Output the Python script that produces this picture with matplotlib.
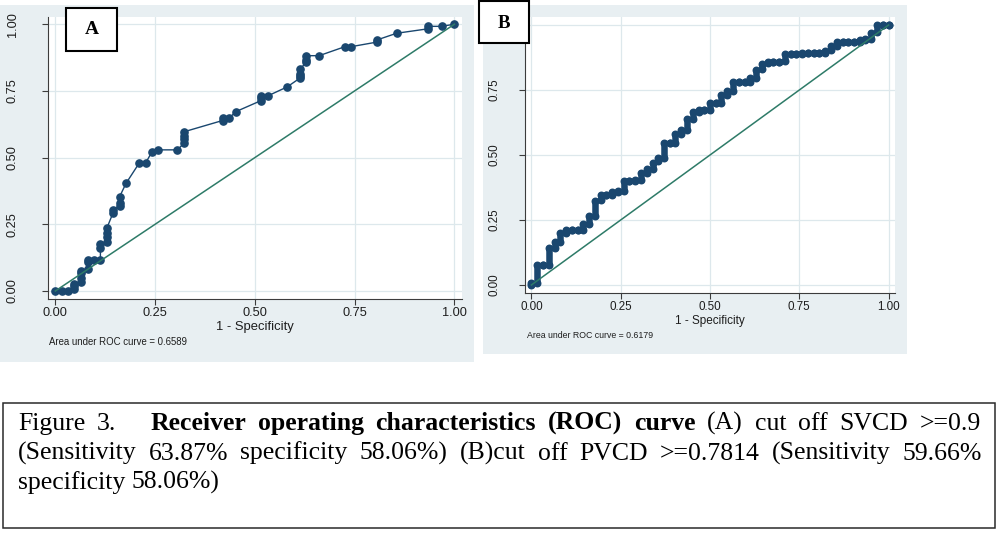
import matplotlib
matplotlib.use("Agg")
import matplotlib.pyplot as plt
from matplotlib.patches import Rectangle

plt.rcParams['font.family'] = ['Liberation Sans', 'DejaVu Sans']

# Panel A: ROC points (1 - specificity, sensitivity)
a_fpr = [0.000, 0.016, 0.032, 0.048, 0.048, 0.048, 0.065, 0.065, 0.065, 0.065,
         0.081, 0.081, 0.081, 0.097, 0.113, 0.113, 0.113, 0.129, 0.129, 0.129,
         0.129, 0.145, 0.145, 0.161, 0.161, 0.161, 0.177, 0.210, 0.226, 0.242,
         0.258, 0.306, 0.323, 0.323, 0.323, 0.323, 0.419, 0.419, 0.435, 0.452,
         0.516, 0.516, 0.516, 0.532, 0.581, 0.613, 0.613, 0.613, 0.613, 0.629,
         0.629, 0.629, 0.661, 0.726, 0.742, 0.806, 0.806, 0.855, 0.935, 0.935,
         0.968, 1.000]
a_tpr = [0.000, 0.000, 0.000, 0.008, 0.017, 0.025, 0.034, 0.050, 0.067, 0.076,
         0.084, 0.109, 0.118, 0.118, 0.118, 0.160, 0.176, 0.185, 0.202, 0.218,
         0.235, 0.294, 0.303, 0.319, 0.328, 0.353, 0.403, 0.479, 0.479, 0.521,
         0.529, 0.529, 0.555, 0.571, 0.580, 0.597, 0.639, 0.647, 0.647, 0.672,
         0.714, 0.723, 0.731, 0.731, 0.765, 0.798, 0.807, 0.815, 0.832, 0.857,
         0.866, 0.882, 0.882, 0.916, 0.916, 0.933, 0.941, 0.966, 0.983, 0.992,
         0.992, 1.000]

# Panel B: one vertical run of points per value of 1 - specificity
b_fpr = [0.000, 0.016, 0.032, 0.048, 0.065, 0.081, 0.097, 0.113, 0.129, 0.145,
         0.161, 0.177, 0.194, 0.210, 0.226, 0.242, 0.258, 0.274, 0.290, 0.306,
         0.323, 0.339, 0.355, 0.371, 0.387, 0.403, 0.419, 0.435, 0.452, 0.468,
         0.484, 0.500, 0.516, 0.532, 0.548, 0.565, 0.581, 0.597, 0.613, 0.629,
         0.645, 0.661, 0.677, 0.694, 0.710, 0.726, 0.742, 0.758, 0.774, 0.790,
         0.806, 0.823, 0.839, 0.855, 0.871, 0.887, 0.903, 0.919, 0.935, 0.952,
         0.968, 0.984, 1.000]
b_lo = [0.000, 0.008, 0.076, 0.076, 0.143, 0.164, 0.198, 0.210, 0.210, 0.210,
        0.235, 0.265, 0.328, 0.345, 0.345, 0.357, 0.361, 0.399, 0.399, 0.403,
        0.429, 0.445, 0.475, 0.487, 0.546, 0.546, 0.580, 0.597, 0.639, 0.667,
        0.672, 0.672, 0.702, 0.702, 0.731, 0.748, 0.782, 0.782, 0.782, 0.798,
        0.832, 0.853, 0.857, 0.857, 0.861, 0.887, 0.887, 0.887, 0.891, 0.891,
        0.891, 0.891, 0.903, 0.920, 0.933, 0.933, 0.933, 0.933, 0.941, 0.945,
        0.975, 1.000, 1.000]
b_hi = [0.008, 0.076, 0.076, 0.143, 0.164, 0.198, 0.210, 0.210, 0.210, 0.235,
        0.265, 0.324, 0.345, 0.345, 0.357, 0.361, 0.399, 0.399, 0.403, 0.429,
        0.445, 0.471, 0.487, 0.546, 0.546, 0.580, 0.597, 0.639, 0.667, 0.672,
        0.672, 0.702, 0.702, 0.731, 0.748, 0.782, 0.782, 0.782, 0.798, 0.828,
        0.849, 0.857, 0.857, 0.857, 0.887, 0.887, 0.887, 0.891, 0.891, 0.891,
        0.891, 0.899, 0.920, 0.933, 0.933, 0.933, 0.933, 0.941, 0.945, 0.971,
        1.000, 1.000, 1.000]

a_auc = "Area under ROC curve = 0.6589"
b_auc = "Area under ROC curve = 0.6179"
ticks = [0, 0.25, 0.5, 0.75, 1.0]
tick_labels = ["0.00", "0.25", "0.50", "0.75", "1.00"]
# the B box sits on top of the 1.00 label of panel B, so it is not shown
b_ytick_labels = ["0.00", "0.25", "0.50", "0.75", ""]

cap_line1 = [("Figure", False), ("3.", False), ("Receiver", True), ("operating", True),
             ("characteristics", True), ("(ROC)", True), ("curve", True), ("(A)", False),
             ("cut", False), ("off", False), ("SVCD", False), (">=0.9", False)]
cap_line2 = [("(Sensitivity", False), ("63.87%", False), ("specificity", False),
             ("58.06%)", False), ("(B)cut", False), ("off", False), ("PVCD", False),
             (">=0.7814", False), ("(Sensitivity", False), ("59.66%", False)]
cap_line3 = [("specificity", False), ("58.06%)", False)]

NAVY = "#1a476f"
REF = "#2e7b68"
BG = "#e8eff2"
GRID = "#dde8ec"
AXC = "#3c3c3c"
W, H = 1000, 536

fig = plt.figure(figsize=(10, 5.36), dpi=100)
fig.patch.set_facecolor("white")


def rect_px(x0, y0, x1, y1, **kw):
    # pixel box (y measured from the top) -> figure rectangle
    r = Rectangle((x0 / W, 1 - y1 / H), (x1 - x0) / W, (y1 - y0) / H,
                  transform=fig.transFigure, **kw)
    fig.add_artist(r)
    return r


def roc_axes(x0, y0, x1, y1, xlim, ylim, fs, ypad, ylabels):
    ax = fig.add_axes([x0 / W, 1 - y1 / H, (x1 - x0) / W, (y1 - y0) / H])
    ax.set_facecolor("white")
    ax.set_xlim(xlim)
    ax.set_ylim(ylim)
    ax.set_xticks(ticks, tick_labels)
    ax.set_yticks(ticks, ylabels)
    ax.spines["top"].set_visible(False)
    ax.spines["right"].set_visible(False)
    for s in ["left", "bottom"]:
        ax.spines[s].set_color(AXC)
        ax.spines[s].set_linewidth(0.8)
    ax.grid(True, color=GRID, lw=0.9)
    ax.set_axisbelow(True)
    ax.tick_params(axis="both", direction="out", length=4, width=0.8,
                   color=AXC, labelsize=fs, labelcolor="#1e1e1e")
    ax.tick_params(axis="x", pad=2)
    ax.tick_params(axis="y", pad=ypad, labelrotation=90)
    for lab in ax.get_yticklabels():
        lab.set_va("center")
    return ax


# grey graph regions behind each panel
rect_px(0, 5, 474, 362, fc=BG, ec="none", zorder=-5)
rect_px(483, 5, 907, 354, fc=BG, ec="none", zorder=-5)

# Panel A
axA = roc_axes(48, 17, 462, 299, (-0.0183, 1.019), (-0.030, 1.027), 9.2, 17, tick_labels)
axA.plot(a_fpr, a_tpr, "-o", color=NAVY, lw=1.0, ms=5.2, zorder=3, clip_on=False)
axA.plot([0, 1], [0, 1], color=REF, lw=1.1, zorder=4)
axA.set_xlabel("1 - Specificity", fontsize=9.4, color="#1e1e1e")
axA.xaxis.set_label_coords(0.5, -0.078)
fig.text(49 / W, 1 - 342 / H, a_auc, fontsize=6.9, va="center", color="#1e1e1e")

# Panel B
axB = roc_axes(525, 17, 895, 293, (-0.018, 1.018), (-0.031, 1.031), 8.4, 14, b_ytick_labels)
bx, by = [], []
for x, lo, hi in zip(b_fpr, b_lo, b_hi):
    bx += [x, x]
    by += [lo, hi]
axB.plot(bx, by, "-o", color=NAVY, lw=1.0, ms=4.7, zorder=3, clip_on=False)
axB.vlines(b_fpr, b_lo, b_hi, colors=NAVY, linewidth=4.7, capstyle="round", zorder=3)
axB.plot([0, 1], [0, 1], color=REF, lw=1.1, zorder=4)
axB.set_xlabel("1 - Specificity", fontsize=8.5, color="#1e1e1e")
axB.xaxis.set_label_coords(0.5, -0.08)
fig.text(527 / W, 1 - 335 / H, b_auc, fontsize=6.3, va="center", color="#1e1e1e")

# panel letters
rect_px(66, 8, 117, 51, fc="white", ec="black", lw=1.5, zorder=5)
fig.text(91.5 / W, 1 - 30 / H, "A", fontsize=14, fontweight="bold",
         family="Liberation Serif", ha="center", va="center", zorder=6)
rect_px(478.5, 1, 529, 43, fc="white", ec="black", lw=1.5, zorder=5)
fig.text(503.5 / W, 1 - 23 / H, "B", fontsize=13.5, fontweight="bold",
         family="Liberation Serif", ha="center", va="center", zorder=6)

# caption box
rect_px(3, 403, 995, 528, fc="none", ec="#2a2a2a", lw=1.1, zorder=5)

CAP_FS = 18.5
renderer = fig.canvas.get_renderer()


def put_line(words, base_y, x0, x1, justify, tab=None, tab_w=22):
    items = []
    for w, bold in words:
        t = fig.text(0, 1 - base_y / H, w, fontsize=CAP_FS, family="Liberation Serif",
                     fontweight="bold" if bold else "normal", va="baseline",
                     ha="left", color="black")
        items.append(t)
    widths = [t.get_window_extent(renderer).width for t in items]
    gaps = [CAP_FS * 100 / 72 * 0.25] * (len(items) - 1)
    if tab is not None:
        gaps[tab] += tab_w
    if justify and gaps:
        slack = (x1 - x0) - sum(widths) - sum(gaps)
        gaps = [g + slack / len(gaps) for g in gaps]
    x = x0
    for t, w, g in zip(items, widths, gaps + [0]):
        t.set_x(x / W)
        x += w + g


put_line(cap_line1, 430, 18, 981, True, tab=1)
put_line(cap_line2, 459.5, 18, 982, True)
put_line(cap_line3, 489, 18, 982, False)

fig.savefig("out.png", dpi=100)
